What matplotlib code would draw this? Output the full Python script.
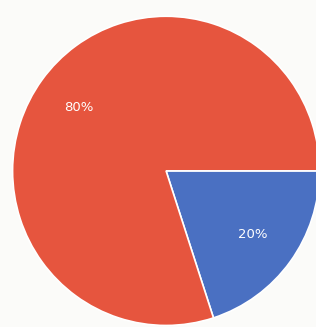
import matplotlib.pyplot as plt

# slice data
labels = ['20%', '80%']
values = [20, 80]
colors = ['#4a70c2', '#e6553e']

fig = plt.figure(figsize=(3.16, 3.27), dpi=100)
fig.patch.set_facecolor('#fbfbf9')
ax = fig.add_axes([0.035, 0.0, 0.981, 0.955])

wedges, texts = ax.pie(values, colors=colors, startangle=-72, counterclock=True,
                       labels=labels, labeldistance=0.7,
                       wedgeprops=dict(edgecolor='white', linewidth=1.2))
for t in texts:
    t.set_color('white')
    t.set_fontsize(9.5)
    t.set_ha('center')
    t.set_va('center')

ax.set_xlim(-1.01, 1.01)
ax.set_ylim(-1.01, 1.01)
ax.set_aspect('auto')

fig.savefig('out.png', dpi=100, facecolor=fig.get_facecolor())
